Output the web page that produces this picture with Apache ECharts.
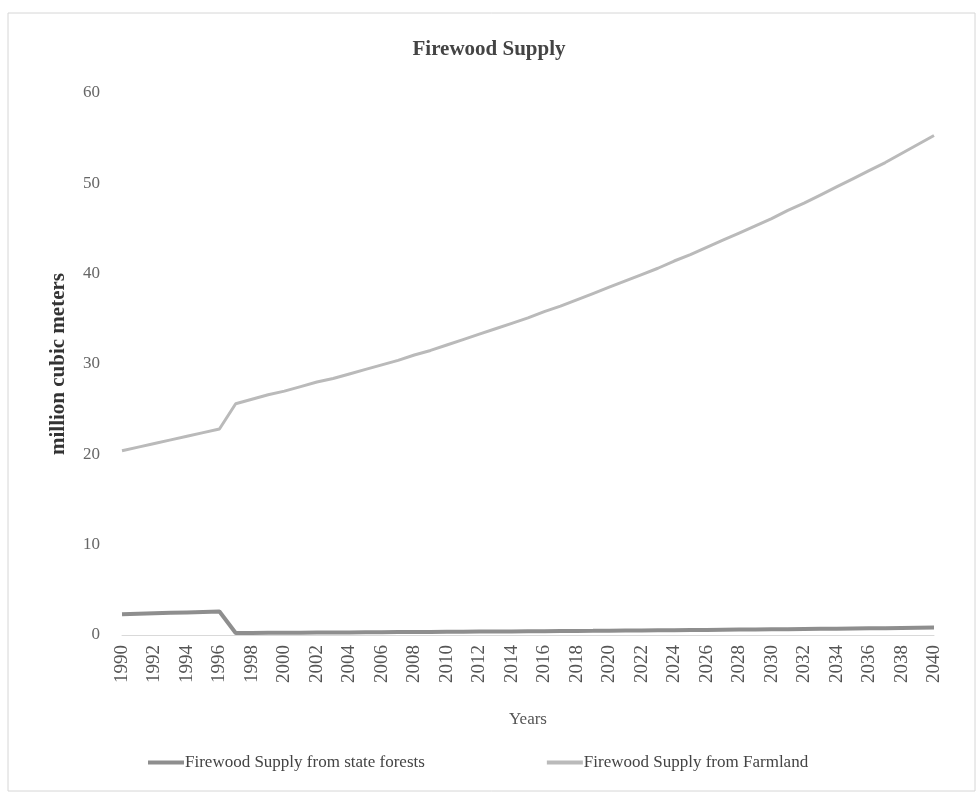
<!DOCTYPE html>
<html>
<head>
<meta charset="utf-8">
<script src="https://cdn.jsdelivr.net/npm/echarts@6/dist/echarts.min.js"></script>
<style>
html,body{margin:0;padding:0;background:#fff;}
#chart{width:978px;height:794px;}
</style>
</head>
<body>
<div id="chart"></div>
<script>
var years = [];
for (var y = 1990; y <= 2040; y++) years.push(String(y));

var stateForests = [
  2.30, 2.35, 2.40, 2.45, 2.50, 2.55, 2.60,
  0.22, 0.23, 0.24, 0.25, 0.26, 0.27, 0.28, 0.29, 0.30,
  0.31, 0.32, 0.33, 0.34, 0.35, 0.36, 0.38, 0.39, 0.40,
  0.41, 0.42, 0.44, 0.45, 0.46, 0.48, 0.49, 0.50, 0.52,
  0.53, 0.55, 0.56, 0.58, 0.60, 0.61, 0.63, 0.65, 0.67,
  0.69, 0.70, 0.72, 0.74, 0.76, 0.78, 0.80, 0.82
];

var farmland = [
  20.4, 20.8, 21.2, 21.6, 22.0, 22.4, 22.8,
  25.6, 26.1, 26.6, 27.0, 27.5, 28.0, 28.4, 28.9, 29.4,
  29.9, 30.4, 31.0, 31.5, 32.1, 32.7, 33.3, 33.9, 34.5,
  35.1, 35.8, 36.4, 37.1, 37.8, 38.5, 39.2, 39.9, 40.6,
  41.4, 42.1, 42.9, 43.7, 44.5, 45.3, 46.1, 47.0, 47.8,
  48.7, 49.6, 50.5, 51.4, 52.3, 53.3, 54.3, 55.3
];

var seriesNames = ['Firewood Supply from state forests', 'Firewood Supply from Farmland'];

var font = '"Liberation Serif", "Times New Roman", serif';
var chart = echarts.init(document.getElementById('chart'), null, {renderer: 'canvas'});
chart.setOption({
  backgroundColor: '#ffffff',
  animation: false,
  textStyle: {fontFamily: font},
  graphic: [{
    type: 'rect',
    shape: {x: 8, y: 13, width: 967, height: 778},
    style: {fill: 'none', stroke: '#d6d6d6', lineWidth: 1}
  }],
  title: {
    text: 'Firewood Supply',
    left: 'center',
    top: 34,
    textStyle: {fontFamily: font, fontSize: 21, fontWeight: 'bold', color: '#444'}
  },
  legend: {
    bottom: 18,
    left: 143,
    itemGap: 122,
    itemWidth: 36,
    itemHeight: 4,
    icon: 'rect',
    textStyle: {fontFamily: font, fontSize: 17, color: '#444', padding: [0, 0, 0, -4]},
    data: seriesNames
  },
  grid: {left: 122, right: 44, top: 93, bottom: 159},
  xAxis: {
    type: 'category',
    data: years,
    boundaryGap: false,
    name: 'Years',
    nameLocation: 'middle',
    nameGap: 76,
    nameTextStyle: {fontFamily: font, fontSize: 17, color: '#555'},
    axisLine: {show: true, lineStyle: {color: '#d9d9d9', width: 1}},
    axisTick: {show: false},
    axisLabel: {
      rotate: 90,
      interval: 1,
      margin: 10,
      fontFamily: font,
      fontSize: 19,
      color: '#555'
    },
    splitLine: {show: false}
  },
  yAxis: {
    type: 'value',
    min: 0,
    max: 60,
    interval: 10,
    name: 'million cubic meters',
    nameLocation: 'middle',
    nameGap: 53,
    nameTextStyle: {fontFamily: font, fontSize: 21, fontWeight: 'bold', color: '#333'},
    axisLine: {show: false},
    axisTick: {show: false},
    axisLabel: {fontFamily: font, fontSize: 17, color: '#666', margin: 22},
    splitLine: {show: false}
  },
  series: [
    {
      name: seriesNames[0],
      type: 'line',
      data: stateForests,
      showSymbol: false,
      symbol: 'none',
      lineStyle: {color: '#8e8e8e', width: 4},
      itemStyle: {color: '#8e8e8e'}
    },
    {
      name: seriesNames[1],
      type: 'line',
      data: farmland,
      showSymbol: false,
      symbol: 'none',
      lineStyle: {color: '#bababa', width: 3},
      itemStyle: {color: '#bababa'}
    }
  ]
});
</script>
</body>
</html>
